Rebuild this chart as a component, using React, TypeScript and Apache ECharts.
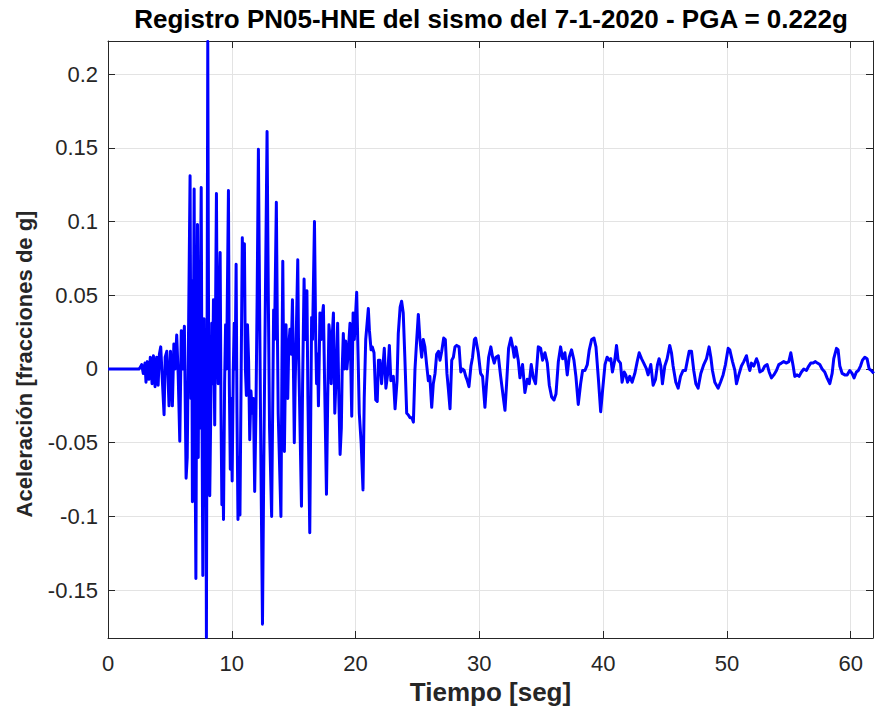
import React, { useEffect, useRef } from "react";
import * as echarts from "echarts";

// [time (s), acceleration (g)]
const preEvent: [number, number][] = [
  [0, 0], [2.5, 0], [2.6, 0.001], [2.72, 0.003], [2.85, -0.003], [2.99, 0.004], [3.07, -0.009],
  [3.18, 0.005], [3.3, -0.007], [3.42, 0.008], [3.56, -0.01], [3.67, 0.009], [3.8, -0.012],
  [3.93, 0.008], [4.05, -0.011], [4.15, 0.01], [4.26, 0.015], [4.38, -0.006], [4.53, -0.031],
  [4.62, 0.008], [4.75, 0.012], [4.85, -0.006], [4.93, -0.025], [5.05, 0.012], [5.12, -0.005],
  [5.2, -0.025], [5.32, 0.017], [5.42, 0.0], [5.55, 0.023], [5.67, -0.004], [5.8, -0.049],
  [5.92, 0.026], [6.02, 0.0], [6.17, 0.029], [6.31, -0.074], [6.4, -0.06], [6.5, 0.02],
];

const strongPhase: [number, number][] = [
  [6.63, 0.131], [6.7, -0.02], [6.76, 0.06], [6.82, -0.09], [6.9, 0.02], [6.96, 0.122],
  [7.03, -0.05], [7.1, -0.142], [7.16, 0.01], [7.23, 0.098], [7.29, -0.06], [7.35, 0.03],
  [7.41, -0.04], [7.47, 0.06], [7.53, 0.123], [7.59, -0.02], [7.66, -0.14], [7.71, -0.03],
  [7.76, 0.034], [7.81, -0.06], [7.86, -0.086], [7.9, 0.0], [7.95, -0.182], [8.06, 0.222],
  [8.14, -0.02], [8.22, -0.086], [8.3, -0.03], [8.38, 0.031], [8.45, -0.01], [8.52, 0.047],
  [8.62, -0.038], [8.76, 0.119], [8.83, 0.02], [8.9, -0.01], [8.97, 0.04], [9.06, 0.079],
  [9.13, -0.03], [9.2, -0.092], [9.26, -0.05], [9.33, -0.102], [9.42, -0.01], [9.5, 0.03],
  [9.58, 0.0], [9.73, 0.121], [9.8, -0.01], [9.88, -0.068], [9.95, -0.02], [10.03, -0.076],
  [10.12, 0.0], [10.2, 0.031], [10.27, 0.0], [10.35, 0.071], [10.42, -0.03], [10.5, -0.102],
  [10.58, -0.06], [10.66, -0.099], [10.76, 0.0], [10.85, 0.089], [10.93, 0.05], [11.02, 0.085],
  [11.1, 0.0], [11.18, -0.018], [11.27, 0.03], [11.36, 0.005], [11.45, -0.048], [11.55, -0.015],
  [11.65, -0.03], [11.75, -0.02], [11.85, -0.083], [11.95, -0.03], [12.05, 0.05], [12.15, 0.149],
  [12.25, 0.04], [12.35, -0.06], [12.48, -0.173], [12.58, -0.07], [12.68, 0.02], [12.85, 0.161],
  [12.95, 0.05], [13.05, -0.04], [13.22, -0.1], [13.3, -0.03], [13.38, 0.04], [13.45, 0.02],
  [13.6, 0.113], [13.68, 0.03], [13.75, -0.03], [13.97, -0.1], [14.05, 0.0], [14.12, 0.073],
  [14.2, -0.01], [14.25, -0.056], [14.32, -0.01], [14.38, 0.03], [14.45, 0.0], [14.52, -0.02],
  [14.6, 0.015], [14.7, 0.027], [14.8, 0.01], [14.9, 0.047], [14.98, 0.0], [15.05, -0.05],
  [15.12, -0.01], [15.2, 0.02], [15.33, 0.074], [15.4, 0.01], [15.47, -0.02], [15.63, -0.093],
  [15.72, -0.01], [15.84, 0.061], [15.92, 0.02], [16.0, 0.045], [16.07, 0.053], [16.15, -0.02],
  [16.3, -0.111], [16.38, -0.03], [16.45, 0.035], [16.52, 0.02], [16.68, 0.1], [16.78, 0.02],
  [16.85, -0.01], [16.93, 0.01], [17.0, -0.025], [17.07, 0.01], [17.12, 0.038], [17.22, 0.02],
  [17.3, 0.035], [17.4, 0.043], [17.5, -0.01], [17.65, -0.085], [17.75, -0.02], [17.85, 0.03],
  [17.95, 0.02], [18.03, -0.01], [18.1, 0.02], [18.21, 0.038], [18.32, -0.03], [18.45, 0.0],
  [18.55, 0.031], [18.65, -0.02], [18.75, -0.058], [18.85, -0.04], [18.92, 0.0], [19.01, 0.024],
  [19.1, 0.0], [19.2, 0.019], [19.3, 0.0], [19.4, 0.01], [19.55, 0.031], [19.69, -0.032],
  [19.8, 0.038], [19.9, 0.02], [20.09, 0.052], [20.2, 0.01], [20.3, -0.03], [20.45, -0.05],
  [20.6, -0.082], [20.7, -0.02], [20.82, 0.02], [20.92, 0.03], [21.03, 0.041],
];

const codaPhase: [number, number][] = [
  [21.12, 0.026], [21.25, 0.013], [21.35, 0.015], [21.49, 0.011], [21.63, -0.021], [21.75, -0.022],
  [21.85, 0.006], [21.97, 0.006], [22.1, -0.01], [22.32, 0.014], [22.45, -0.013], [22.6, -0.003],
  [22.73, 0.016], [22.85, -0.008], [23.05, -0.005], [23.19, -0.027], [23.35, -0.008], [23.45, 0.024],
  [23.6, 0.042], [23.72, 0.046], [23.85, 0.038], [23.98, 0.008], [24.13, -0.03], [24.25, -0.031],
  [24.4, -0.033], [24.55, -0.033], [24.67, -0.036], [24.8, 0.0], [24.94, 0.02], [25.07, 0.037],
  [25.2, 0.02], [25.34, 0.008], [25.47, 0.02], [25.6, 0.015], [25.74, 0.003], [25.88, -0.008],
  [26.0, -0.005], [26.15, -0.026], [26.28, -0.01], [26.42, -0.003], [26.55, 0.01], [26.7, 0.012],
  [26.82, 0.006], [26.96, 0.012], [27.12, 0.021], [27.25, 0.02], [27.38, -0.003], [27.5, -0.014],
  [27.63, -0.027], [27.77, 0.006], [27.9, 0.008], [28.03, 0.015], [28.17, 0.016], [28.36, 0.015],
  [28.5, -0.002], [28.63, 0.0], [28.77, -0.001], [28.9, -0.005], [29.03, -0.008], [29.16, -0.012],
  [29.32, 0.002], [29.45, 0.008], [29.6, 0.02], [29.7, 0.021], [29.91, 0.011], [30.1, -0.003],
  [30.26, -0.005], [30.45, -0.026], [30.58, -0.01], [30.75, 0.008], [30.93, 0.015], [31.07, 0.008],
  [31.2, 0.004], [31.34, 0.008], [31.53, 0.009], [31.72, -0.005], [31.93, -0.019], [32.07, -0.028],
  [32.2, -0.01], [32.36, 0.014], [32.55, 0.021], [32.69, 0.015], [32.82, 0.008], [32.95, 0.015],
  [33.14, 0.006], [33.28, -0.006], [33.49, 0.003], [33.68, -0.016], [33.87, -0.007], [34.03, -0.01],
  [34.19, 0.003], [34.36, -0.006], [34.54, -0.01], [34.76, 0.015], [34.95, 0.014], [35.11, 0.006],
  [35.3, 0.011], [35.49, 0.004], [35.65, -0.011], [35.84, -0.019], [36.03, -0.021], [36.19, -0.017],
  [36.38, 0.005], [36.56, 0.015], [36.73, 0.007], [36.91, 0.011], [37.1, -0.004], [37.26, 0.008],
  [37.45, 0.013], [37.64, 0.006], [37.8, -0.005], [37.99, -0.024], [38.18, -0.01], [38.34, -0.001],
  [38.53, -0.001], [38.72, 0.003], [38.88, 0.013], [39.07, 0.02], [39.26, 0.021], [39.42, 0.015],
  [39.61, -0.006], [39.8, -0.029], [39.96, -0.014], [40.15, 0.003],
];

const tailPhase: [number, number][] = [
  [40.32, 0.008], [40.48, 0.006], [40.62, 0.007], [40.75, -0.002], [40.94, 0.006], [41.08, 0.016],
  [41.21, 0.006], [41.4, 0.004], [41.53, -0.009], [41.7, -0.002], [41.83, -0.004], [41.97, -0.009],
  [42.15, -0.005], [42.34, -0.009], [42.56, -0.003], [42.75, 0.005], [42.91, 0.011], [43.1, 0.007],
  [43.28, 0.004], [43.5, 0.0], [43.63, -0.004], [43.85, 0.003], [44.04, -0.011], [44.23, -0.007],
  [44.39, 0.003], [44.52, 0.007], [44.66, 0.002], [44.79, -0.01], [44.98, 0.002], [45.17, 0.007],
  [45.38, 0.016], [45.52, 0.011], [45.65, 0.002], [45.87, -0.009], [46.06, -0.013], [46.25, -0.005],
  [46.46, -0.001], [46.65, -0.001], [46.81, 0.006], [46.95, 0.012], [47.14, 0.012], [47.32, -0.001],
  [47.49, -0.01], [47.67, -0.013], [47.89, -0.003], [48.13, 0.003], [48.35, 0.007], [48.56, 0.015],
  [48.7, 0.008], [48.83, -0.001], [49.02, -0.009], [49.29, -0.013], [49.48, -0.009], [49.69, -0.004],
  [49.88, 0.003], [50.1, 0.014], [50.23, 0.013], [50.45, 0.005], [50.64, -0.001], [50.77, -0.01],
  [50.96, -0.004], [51.17, 0.002], [51.36, 0.005], [51.58, 0.009], [51.71, 0.003], [51.85, -0.001],
  [51.98, 0.004], [52.17, 0.002], [52.39, 0.007], [52.52, 0.004], [52.66, -0.002], [52.87, -0.001],
  [53.06, 0.002], [53.25, 0.003], [53.41, -0.002], [53.6, -0.006], [53.79, -0.004], [54.0, -0.001],
  [54.19, 0.003], [54.4, 0.004], [54.59, 0.005], [54.81, 0.004], [55.0, 0.005], [55.16, 0.011],
  [55.35, 0.002], [55.48, -0.005], [55.67, -0.004], [55.83, -0.005], [56.02, -0.002], [56.21, 0.0],
  [56.42, -0.001], [56.61, 0.002], [56.77, 0.004], [56.96, 0.004], [57.15, 0.005], [57.31, 0.004],
  [57.5, 0.003], [57.69, 0.0], [57.9, -0.002], [58.09, -0.006], [58.31, -0.01], [58.5, -0.003],
  [58.63, 0.007], [58.85, 0.014], [58.98, 0.013], [59.12, 0.002], [59.31, -0.003], [59.52, -0.004],
  [59.71, -0.004], [59.92, -0.001], [60.11, -0.003], [60.27, -0.006], [60.46, -0.002], [60.62, -0.001],
  [60.79, 0.002], [60.95, 0.006], [61.14, 0.008], [61.32, 0.007], [61.49, 0.0], [61.67, -0.001],
  [61.86, -0.003],
];

const X_MIN = 0;
const X_MAX = 61.8;
const Y_MIN = -0.1824;
const Y_MAX = 0.2224;
const yTickStep = 0.05;
const xTickStep = 10;

const TITLE = "Registro PN05-HNE del sismo del 7-1-2020 - PGA = 0.222g";
const X_NAME = "Tiempo [seg]";
const Y_NAME = "Aceleración [fracciones de g]";

const FONT = "'Liberation Sans', Arial, Helvetica, sans-serif";
const AXIS_COLOR = "#262626";
const GRID_COLOR = "#e3e3e3";

export default function App() {
  const ref = useRef<HTMLDivElement>(null);

  useEffect(() => {
    if (!ref.current) return;
    const chart = echarts.init(ref.current, null, { renderer: "svg" });
    const record = [...preEvent, ...strongPhase, ...codaPhase, ...tailPhase];

    const yLabel = (v: number) => {
      const k = v / yTickStep;
      if (Math.abs(k - Math.round(k)) > 1e-6) return "";
      const r = Math.round(v * 100) / 100;
      return String(r === 0 ? 0 : r);
    };

    const tickCommon = { show: true, inside: true, length: 7, lineStyle: { color: AXIS_COLOR, width: 1 } };
    const lineCommon = { show: true, onZero: false, lineStyle: { color: AXIS_COLOR, width: 1 } };

    chart.setOption({
      animation: false,
      backgroundColor: "#ffffff",
      title: {
        text: TITLE,
        left: 491,
        textAlign: "center",
        top: 6,
        padding: 0,
        textStyle: { fontFamily: FONT, fontSize: 26, fontWeight: "bold", color: "#000000" },
      },
      graphic: [
        {
          type: "text",
          x: 24,
          y: 364,
          rotation: Math.PI / 2,
          style: {
            text: Y_NAME,
            fontFamily: FONT,
            fontSize: 22,
            fontWeight: "bold",
            fill: AXIS_COLOR,
            textAlign: "center",
            textVerticalAlign: "middle",
          },
        },
      ],
      grid: { left: 108, right: 2, top: 41, bottom: 73, containLabel: false, outerBoundsMode: "none" },
      xAxis: [
        {
          type: "value",
          min: X_MIN,
          max: X_MAX,
          interval: xTickStep,
          position: "bottom",
          name: X_NAME,
          nameLocation: "middle",
          nameGap: 41,
          nameTextStyle: { fontFamily: FONT, fontSize: 26, fontWeight: "bold", color: AXIS_COLOR },
          axisLine: lineCommon,
          axisTick: tickCommon,
          axisLabel: {
            fontFamily: FONT, fontSize: 22, color: AXIS_COLOR, margin: 14,
            showMaxLabel: false,
            formatter: (v: number) => (Math.abs(v / xTickStep - Math.round(v / xTickStep)) < 1e-6 ? String(v) : ""),
          },
          splitLine: { show: true, lineStyle: { color: GRID_COLOR, width: 1 } },
        },
        {
          type: "value",
          min: X_MIN,
          max: X_MAX,
          interval: xTickStep,
          position: "top",
          axisLine: lineCommon,
          axisTick: tickCommon,
          axisLabel: { show: false },
          splitLine: { show: false },
        },
      ],
      yAxis: [
        {
          type: "value",
          min: Y_MIN,
          max: Y_MAX,
          splitNumber: 8,
          position: "left",
          axisLine: lineCommon,
          axisTick: tickCommon,
          axisLabel: {
            fontFamily: FONT, fontSize: 22, color: AXIS_COLOR, margin: 10,
            showMinLabel: false, showMaxLabel: false,
            formatter: yLabel,
          },
          splitLine: { show: true, lineStyle: { color: GRID_COLOR, width: 1 } },
        },
        {
          type: "value",
          min: Y_MIN,
          max: Y_MAX,
          splitNumber: 8,
          position: "right",
          axisLine: lineCommon,
          axisTick: tickCommon,
          axisLabel: { show: false },
          splitLine: { show: false },
        },
      ],
      series: [
        {
          type: "line",
          xAxisIndex: 0,
          yAxisIndex: 0,
          data: record,
          showSymbol: false,
          symbol: "none",
          clip: true,
          lineStyle: { color: "#0000ff", width: 3, join: "round" },
          emphasis: { disabled: true },
          z: 3,
        },
      ],
    });

    return () => chart.dispose();
  }, []);

  return (
    <div
      ref={ref}
      style={{ position: "fixed", left: 0, top: 0, width: 875, height: 711, background: "#fff" }}
    />
  );
}
